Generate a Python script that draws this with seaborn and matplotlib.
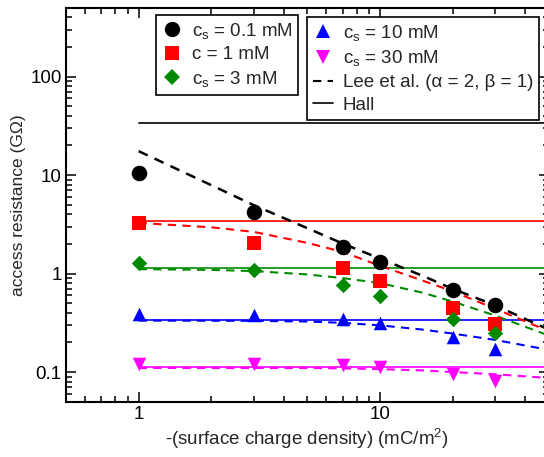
import matplotlib
matplotlib.use("Agg")
import matplotlib.pyplot as plt
import seaborn as sns
from matplotlib.lines import Line2D
from matplotlib.ticker import LogLocator, FuncFormatter, NullFormatter

# data
sigma = [1, 3, 7, 10, 20, 30]                      # -(surface charge density), mC/m^2
r_c01 = [10.5, 4.17, 1.84, 1.31, 0.676, 0.484]     # cs = 0.1 mM
r_c1 = [3.27, 2.05, 1.15, 0.85, 0.447, 0.31]       # c = 1 mM
r_c3 = [1.28, 1.08, 0.76, 0.59, 0.346, 0.249]      # cs = 3 mM
r_c10 = [0.39, 0.377, 0.348, 0.315, 0.225, 0.17]   # cs = 10 mM
r_c30 = [0.122, 0.122, 0.117, 0.113, 0.096, 0.082] # cs = 30 mM

# Lee et al. (alpha = 2, beta = 1)
sigma_lee = [1, 2, 3, 5, 7, 10, 15, 20, 30, 50]
lee_c01 = [17.5, 7.9, 4.95, 2.89, 2.02, 1.42, 0.95, 0.70, 0.476, 0.27]
lee_c1 = [3.27, 2.95, 2.65, 2.05, 1.66, 1.20, 0.85, 0.66, 0.44, 0.26]
lee_c3 = [1.11, 1.09, 1.06, 0.98, 0.90, 0.80, 0.64, 0.52, 0.375, 0.235]
lee_c10 = [0.333, 0.332, 0.331, 0.326, 0.316, 0.298, 0.27, 0.246, 0.212, 0.168]
lee_c30 = [0.110, 0.110, 0.110, 0.110, 0.109, 0.107, 0.104, 0.100, 0.095, 0.087]

# Hall (flat)
sigma_hall = [1, 50]
hall = [34, 3.4, 1.13, 0.34, 0.113]

colors = ["black", "#ff0000", "#008a00", "#0000ff", "#ff00ff"]
markers = ["o", "s", "D", "^", "v"]
sizes = [125, 90, 62, 95, 95]
labels = [r"c$_\mathregular{s}$ = 0.1 mM", "c = 1 mM", r"c$_\mathregular{s}$ = 3 mM",
          r"c$_\mathregular{s}$ = 10 mM", r"c$_\mathregular{s}$ = 30 mM"]

sns.set_theme(style="ticks")
plt.rcParams["font.family"] = ["Liberation Sans", "DejaVu Sans"]
plt.rcParams["mathtext.fontset"] = "custom"
plt.rcParams["mathtext.rm"] = "Liberation Sans"
plt.rcParams["mathtext.it"] = "Liberation Sans"

FS = 13.5

fig = plt.figure(figsize=(5.44, 4.57), dpi=100)
ax = fig.add_axes([0.1213, 0.121, 0.8873, 0.862])
ax.set_xscale("log")
ax.set_yscale("log")

points = [r_c01, r_c1, r_c3, r_c10, r_c30]
lees = [lee_c01, lee_c1, lee_c3, lee_c10, lee_c30]

for i in range(5):
    sns.lineplot(x=sigma_hall, y=[hall[i], hall[i]], color=colors[i], lw=1.2, ax=ax, zorder=2)
    sns.lineplot(x=sigma_lee, y=lees[i], color=colors[i], lw=1.8 if i == 0 else 1.5,
                 linestyle=(0, (4, 3)), ax=ax, zorder=3)
    sns.scatterplot(x=sigma, y=points[i], color=colors[i], marker=markers[i], s=sizes[i],
                    linewidth=0, ax=ax, zorder=4)

ax.set_xlim(0.5, 50)
ax.set_ylim(0.05, 500)

for a in (ax.xaxis, ax.yaxis):
    a.set_major_locator(LogLocator(base=10))
    a.set_minor_locator(LogLocator(base=10, subs=range(2, 10)))
    a.set_major_formatter(FuncFormatter(lambda v, p: f"{v:g}"))
    a.set_minor_formatter(NullFormatter())

ax.tick_params(which="both", direction="in", top=True, right=True, width=1.1, labelsize=FS, colors="black")
ax.tick_params(which="major", length=7.5, pad=3)
ax.tick_params(which="minor", length=4.5)
for s in ax.spines.values():
    s.set_linewidth(1.5)
    s.set_color("black")

ax.set_xlabel("-(surface charge density) (mC/m$^\\mathregular{2}$)", fontsize=FS, labelpad=3)
ax.set_ylabel("access resistance (G\u03a9)", fontsize=12.5, labelpad=3)

h1 = [Line2D([], [], color=colors[i], marker=markers[i], linestyle="none",
             markersize=[11, 9.5, 8, 9.7, 9.7][i], markeredgewidth=0) for i in range(3)]
h2 = [Line2D([], [], color=colors[i], marker=markers[i], linestyle="none",
             markersize=9.7, markeredgewidth=0) for i in (3, 4)]
h2 += [Line2D([], [], color="black", lw=1.5, linestyle=(0, (4, 3))),
       Line2D([], [], color="black", lw=1.2)]

leg_kw = dict(loc="upper left", borderaxespad=0, fancybox=False, framealpha=1,
              edgecolor="black", fontsize=FS, handlelength=1.1, handletextpad=0.5,
              labelspacing=0.3, borderpad=0.3)
leg1 = ax.legend(h1, labels[:3], bbox_to_anchor=(0.1865, 0.9815), **leg_kw)
leg1.get_frame().set_linewidth(1.2)
ax.add_artist(leg1)
leg2 = ax.legend(h2, labels[3:] + ["Lee et al. (\u03b1 = 2, \u03b2 = 1)", "Hall"],
                 bbox_to_anchor=(0.4993, 0.976), **leg_kw)
leg2.get_frame().set_linewidth(1.2)

fig.savefig("out.png", dpi=100)
